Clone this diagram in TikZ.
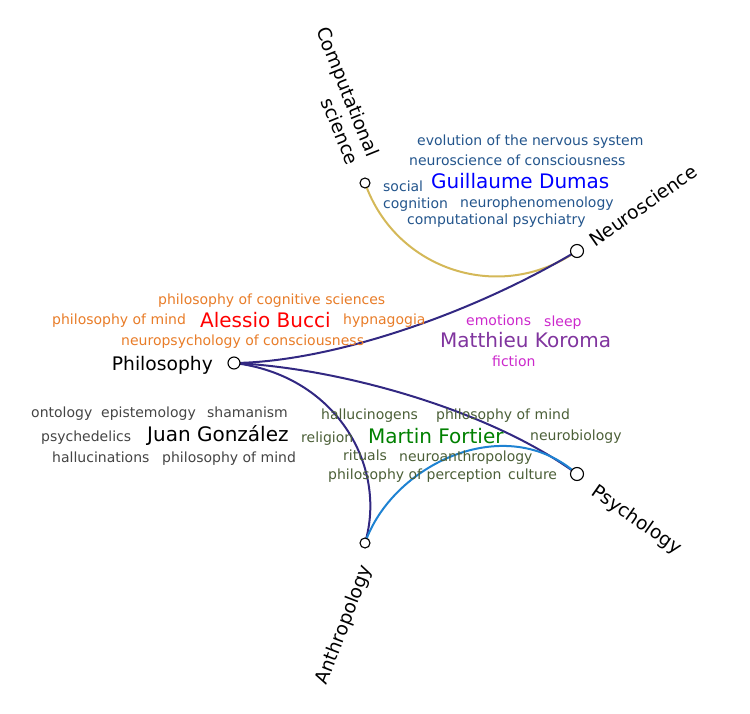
\documentclass[tikz,border=0pt]{standalone}
\usepackage{fontspec}
\setmainfont{DejaVu Sans}
\pgfdeclarelayer{bg}
\pgfsetlayers{bg,main}
\definecolor{edgegold}{RGB}{212,184,88}
\definecolor{edgeindigo}{RGB}{50,40,130}
\definecolor{edgeblue}{RGB}{30,130,210}
\definecolor{dumaskw}{RGB}{35,85,140}
\definecolor{bucckw}{RGB}{232,124,40}
\definecolor{korokw}{RGB}{204,40,204}
\definecolor{koroname}{RGB}{128,52,158}
\definecolor{juankw}{RGB}{68,68,68}
\definecolor{fortkw}{RGB}{75,95,55}
\definecolor{fortname}{RGB}{0,128,0}
\begin{document}
\begin{tikzpicture}[x=1bp,y=-1bp,
  dot/.style={circle,draw=black,fill=white,line width=1.1bp,inner sep=0pt},
  kw/.style={anchor=base west,inner sep=0pt,font=\fontsize{14bp}{16bp}\selectfont},
  nm/.style={anchor=base west,inner sep=0pt,font=\fontsize{20bp}{22bp}\selectfont},
  cat/.style={inner sep=0pt,font=\fontsize{18.7bp}{22bp}\selectfont},
  edgeline/.style={line width=2bp}]
\useasboundingbox (0,0) rectangle (750,714);
% domain nodes
\node[dot,minimum size=10bp] (comp) at (365,183) {};
\node[dot,minimum size=13bp] (neuro) at (577,251) {};
\node[dot,minimum size=12bp] (phil) at (234,363) {};
\node[dot,minimum size=13bp] (psych) at (577,474) {};
\node[dot,minimum size=10bp] (anth) at (365,543) {};
% domain labels
\node[cat,anchor=base east] (philL) at (213,370) {Philosophy};
\node[cat,anchor=east,align=right,rotate=-68] (compL) at (364,160) {Computational\\science};
\node[cat,anchor=west,rotate=35] (neuroL) at (591,242) {Neuroscience};
\node[cat,anchor=west,rotate=-35] (psychL) at (593,490) {Psychology};
\node[cat,anchor=east,rotate=69] (anthL) at (367,566) {Anthropology};
% edges
\begin{pgfonlayer}{bg}
\draw[edgeline,edgegold] (comp.center) .. controls (396,271) and (501,304) .. (neuro.center);
\draw[edgeline,edgeindigo] (phil.center) .. controls (330,362) and (470,315) .. (neuro.center);
\draw[edgeline,edgeindigo] (phil.center) .. controls (340,368) and (490,410) .. (psych.center);
\draw[edgeline,edgeindigo] (phil.center) .. controls (335,375) and (388,465) .. (anth.center);
\draw[edgeline,edgeblue] (anth.center) .. controls (392,465) and (505,410) .. (psych.center);
\end{pgfonlayer}
% Guillaume Dumas
\begin{scope}[every node/.append style={text=dumaskw}]
\node[kw] (d1) at (417,146) {evolution of the nervous system};
\node[kw] (d2) at (409,165) {neuroscience of consciousness};
\node[kw] (d3) at (383,191) {social};
\node[kw] (d4) at (383,208) {cognition};
\node[kw] (d5) at (460,207) {neurophenomenology};
\node[kw] (d6) at (407,224) {computational psychiatry};
\end{scope}
\node[nm,text=blue] (dumas) at (431,188) {Guillaume Dumas};
% Alessio Bucci
\begin{scope}[every node/.append style={text=bucckw}]
\node[kw] (b1) at (158,304) {philosophy of cognitive sciences};
\node[kw] (b2) at (52,324) {philosophy of mind};
\node[kw] (b3) at (343,324) {hypnagogia};
\node[kw] (b4) at (121,345) {neuropsychology of consciousness};
\end{scope}
\node[nm,text=red] (bucci) at (200,327) {Alessio Bucci};
% Matthieu Koroma
\begin{scope}[every node/.append style={text=korokw}]
\node[kw] (k1) at (466,325) {emotions};
\node[kw] (k2) at (544,326) {sleep};
\node[kw] (k3) at (492,366) {fiction};
\end{scope}
\node[nm,text=koroname] (koroma) at (440,347) {Matthieu Koroma};
% Juan Gonzalez
\begin{scope}[every node/.append style={text=juankw}]
\node[kw] (j1) at (31,417) {ontology};
\node[kw] (j2) at (101,417) {epistemology};
\node[kw] (j3) at (207,417) {shamanism};
\node[kw] (j4) at (41,441) {psychedelics};
\node[kw] (j5) at (52,462) {hallucinations};
\node[kw] (j6) at (162,462) {philosophy of mind};
\end{scope}
\node[nm,text=black] (juan) at (147,441) {Juan González};
% Martin Fortier
\begin{scope}[every node/.append style={text=fortkw}]
\node[kw] (f1) at (321,419) {hallucinogens};
\node[kw] (f2) at (436,419) {philosophy of mind};
\node[kw] (f3) at (301,442) {religion};
\node[kw] (f4) at (530,440) {neurobiology};
\node[kw] (f5) at (343,460) {rituals};
\node[kw] (f6) at (399,461) {neuroanthropology};
\node[kw] (f7) at (328,479) {philosophy of perception};
\node[kw] (f8) at (508,479) {culture};
\end{scope}
\node[nm,text=fortname] (fortier) at (368,443) {Martin Fortier};
\end{tikzpicture}
\end{document}
